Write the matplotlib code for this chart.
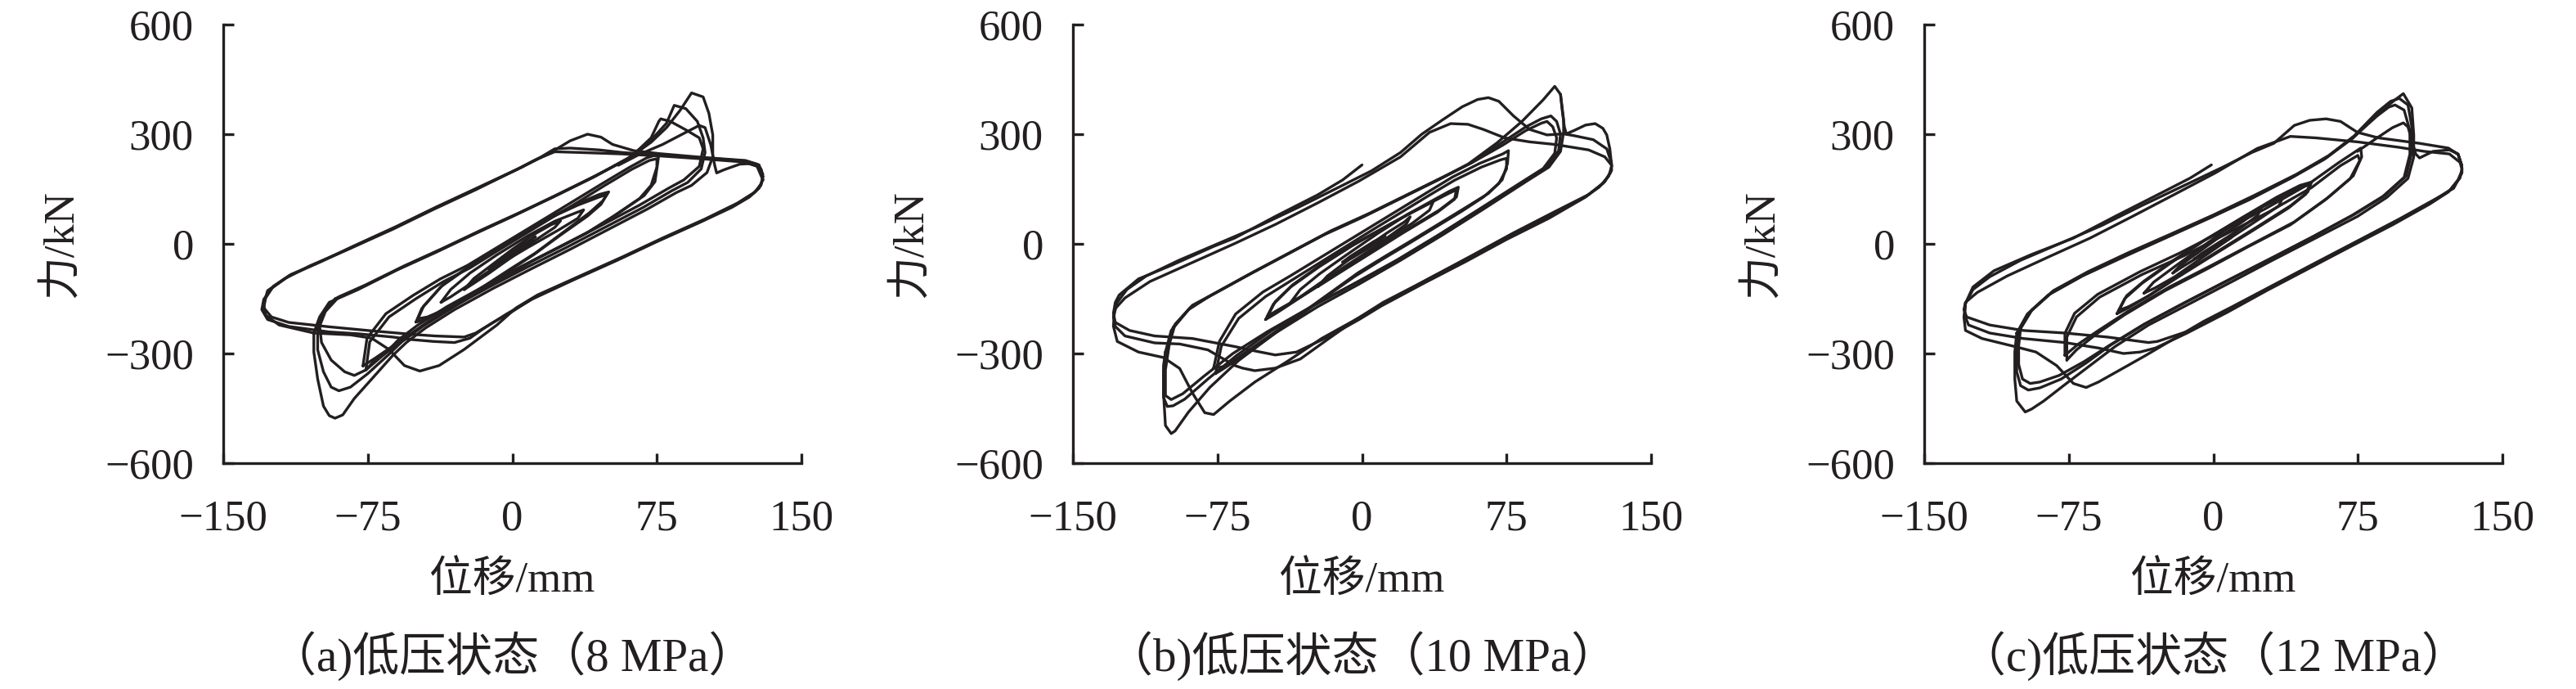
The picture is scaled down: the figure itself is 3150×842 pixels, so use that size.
"""Hysteresis loops (force vs displacement) for three low-pressure states."""

import matplotlib

matplotlib.use("Agg")
import matplotlib.pyplot as plt

plt.rcParams["font.family"] = ["Liberation Serif", "Noto Sans CJK SC"]
plt.rcParams["axes.unicode_minus"] = True

LINE_COLOR = "#231f20"

X_TICKS = [-150, -75, 0, 75, 150]
Y_TICKS = [-600, -300, 0, 300, 600]
X_LABEL = "位移/mm"
Y_LABEL = "力/kN"
CAPTIONS = ["（a)低压状态（8 MPa）", "（b)低压状态（10 MPa）", "（c)低压状态（12 MPa）"]

# ---- panel (a) 8 MPa: loops as (displacement, force) ----
a_small = [
    [(-12, -70), (-8, -52), (0, -22), (6, 0), (12, 20), (9, 5), (2, -22), (-5, -48), (-12, -70)],
    [(-25, -125), (-20, -95), (-10, -55), (0, -15), (10, 22), (20, 52), (25, 63), (22, 45),
     (12, 10), (0, -35), (-12, -80), (-20, -108), (-25, -125)],
    [(-37, -160), (-32, -125), (-22, -80), (-8, -30), (8, 22), (22, 62), (33, 85), (37, 93),
     (34, 70), (24, 38), (8, -10), (-8, -60), (-22, -110), (-32, -145), (-37, -160)],
    [(-50, -214), (-47, -177), (-37, -117), (-23, -65), (-9, -20), (5, 26), (19, 70), (33, 108),
     (45, 135), (50, 142), (47, 118), (40, 85), (26, 30), (12, -25), (-2, -72), (-16, -120),
     (-30, -165), (-44, -205), (-50, -214)],
    [(-49, -205), (-46, -170), (-36, -112), (-22, -60), (-8, -15), (6, 30), (20, 72), (34, 106),
     (45, 128), (49, 135), (46, 108), (39, 76), (25, 24), (11, -30), (-3, -78), (-17, -126),
     (-31, -170), (-44, -200), (-49, -205)],
]
a_75 = [
    [(-77.5, -334), (-75.4, -258), (-65.6, -191), (-51.5, -141), (-37.4, -96), (-23.3, -59),
     (-9.2, -14), (4.9, 31), (19, 76), (33, 121), (47, 166), (61, 210), (70, 236), (76, 245),
     (75.4, 220), (74, 170), (68.4, 132), (54, 80), (40, 34), (26, -4), (12, -42), (-2, -85),
     (-16, -124), (-30, -169), (-44, -214), (-58.5, -267), (-71, -312), (-77.5, -334)],
    [(-76, -345), (-74, -268), (-64, -200), (-50, -150), (-36, -104), (-22, -66), (-8, -20),
     (6, 25), (20, 70), (34, 114), (48, 160), (62, 204), (71, 228), (75, 233), (75, 210),
     (72, 160), (66, 124), (52, 74), (38, 28), (24, -10), (10, -48), (-4, -92), (-18, -132),
     (-32, -178), (-46, -224), (-60, -278), (-72, -322), (-76, -345)],
]
a_100 = [
    [(-103, -244), (-100, -200), (-95, -160), (-80, -125), (-60, -72), (-40, -24), (-20, 26),
     (0, 75), (20, 126), (40, 178), (60, 232), (72, 278), (80, 318), (87, 365), (93, 413),
     (99, 402), (102, 357), (104, 298), (104, 238), (101, 195), (93, 160), (85, 140), (70, 95),
     (50, 40), (30, -15), (10, -68), (-10, -122), (-30, -180), (-45, -230), (-55, -270),
     (-62, -305), (-73, -370), (-82, -423), (-88, -468), (-92, -477), (-95, -470), (-98, -444),
     (-101, -370), (-103, -296), (-103, -244)],
    [(-101, -230), (-98, -190), (-92, -150), (-78, -118), (-58, -66), (-38, -18), (-18, 32),
     (2, 80), (22, 130), (42, 182), (60, 234), (72, 284), (80, 330), (84, 379), (90, 370),
     (96, 335), (99, 290), (100, 250), (98, 205), (91, 168), (83, 146), (68, 100), (48, 45),
     (28, -10), (8, -63), (-12, -118), (-32, -176), (-47, -226), (-57, -266), (-64, -302),
     (-75, -355), (-84, -392), (-90, -402), (-94, -392), (-98, -350), (-101, -290),
     (-101, -230)],
    [(-100, -225), (-97, -185), (-90, -145), (-76, -112), (-56, -60), (-36, -12), (-16, 38),
     (4, 86), (24, 136), (44, 188), (62, 240), (72, 290), (76, 335), (77, 342), (82, 335),
     (90, 312), (97, 290), (99, 260), (97, 212), (89, 175), (81, 152), (66, 106), (46, 50),
     (26, -5), (6, -58), (-14, -114), (-34, -172), (-49, -222), (-59, -262), (-66, -300),
     (-76, -345), (-82, -360), (-87, -350), (-94, -318), (-99, -270), (-100, -225)],
]
a_130 = [
    [(55, 215), (66, 245), (78, 272), (90, 305), (97, 324), (100, 318), (103, 270), (105, 215),
     (106, 194), (110, 203), (118, 218), (125, 220), (129, 205), (130, 180), (129, 164),
     (126, 142), (117, 112), (100, 68), (78, 16), (57, -36), (35, -88), (13, -140), (2, -175),
     (-8, -222), (-25, -289), (-38, -333), (-48, -348), (-56, -333), (-64, -289), (-73, -258),
     (-84, -249), (-103, -244), (-121, -222), (-128, -195), (-129, -165), (-127, -128),
     (-118, -95), (-105, -60), (-84, -12), (-62, 42), (-41, 96), (-19, 150), (3, 205),
     (20, 250), (30, 282), (39, 300), (46, 292), (52, 272), (63, 255), (76, 247), (100, 236),
     (121, 228), (128, 216), (130, 190)],
    [(130, 185), (129, 160), (125, 138), (116, 108), (99, 64), (77, 12), (56, -40), (34, -92),
     (12, -145), (0, -185), (-10, -215), (-19, -244), (-25, -255), (-40, -252), (-51, -248),
     (-73, -238), (-95, -227), (-116, -215), (-125, -200), (-129, -175), (-128, -148),
     (-124, -116), (-115, -84), (-100, -50), (-82, -5), (-60, 48), (-39, 102), (-17, 156),
     (5, 210), (15, 238), (22, 260), (30, 262), (45, 257), (57, 250), (78, 242), (100, 235),
     (121, 227), (127, 218), (130, 185)],
    [(130, 175), (128, 152), (123, 128), (114, 100), (97, 58), (75, 6), (54, -46), (32, -98),
     (10, -152), (-3, -192), (-15, -232), (-22, -258), (-30, -270), (-41, -267), (-52, -262),
     (-62, -255), (-80, -246), (-95, -241), (-116, -226), (-127, -207), (-130, -180),
     (-129, -152), (-125, -122), (-116, -88), (-102, -55), (-84, -12), (-62, 40), (-41, 94),
     (-19, 148), (1, 200), (12, 230), (22, 252), (35, 250), (57, 246), (78, 240), (100, 232),
     (120, 224), (127, 212), (130, 175)],
]

# ---- panel (b) 10 MPa ----
b_small = [
    [(-10, -50), (-6, -34), (0, -14), (6, 6), (12, 22), (9, 8), (2, -16), (-5, -38), (-10, -50)],
    [(-23, -117), (-18, -88), (-9, -52), (2, -10), (13, 30), (22, 60), (25, 74), (23, 54),
     (14, 20), (2, -25), (-10, -72), (-18, -100), (-23, -117)],
    [(-37, -160), (-32, -125), (-22, -82), (-8, -30), (8, 28), (24, 82), (34, 108), (37, 116),
     (35, 92), (26, 56), (10, 2), (-6, -52), (-22, -108), (-32, -145), (-37, -160)],
    [(-50, -207), (-46, -165), (-37, -118), (-22, -62), (-5, -5), (15, 55), (33, 108), (45, 143),
     (50, 155), (49, 128), (40, 92), (22, 35), (3, -28), (-17, -95), (-33, -150), (-44, -188),
     (-50, -207)],
    [(-49, -198), (-45, -158), (-36, -112), (-21, -56), (-4, 0), (16, 58), (34, 108), (45, 138),
     (49, 148), (48, 122), (39, 86), (21, 29), (2, -34), (-18, -100), (-34, -152), (-44, -182),
     (-49, -198)],
]
b_75 = [
    [(-77, -340), (-74, -267), (-65.6, -192), (-51.5, -132), (-37, -87), (-23, -42), (-9, 3),
     (5, 48), (19, 93), (33, 138), (47, 183), (61, 220), (73, 246), (76, 255), (75.5, 220),
     (72.7, 175), (65.6, 138), (54, 100), (40, 55), (26, 10), (12, -34), (-2, -79),
     (-16, -132), (-30, -185), (-44, -237), (-58.5, -290), (-71, -335), (-77, -340)],
    [(-76, -355), (-73, -280), (-64, -204), (-50, -144), (-36, -98), (-22, -52), (-8, -6),
     (6, 40), (20, 85), (34, 130), (48, 174), (62, 210), (72, 230), (75, 234), (75, 205),
     (71, 165), (63, 128), (52, 90), (38, 45), (24, 0), (10, -44), (-4, -90), (-18, -142),
     (-32, -195), (-46, -248), (-60, -300), (-72, -342), (-76, -355)],
]
b_100 = [
    [(-102, -296), (-99, -237), (-90, -180), (-80, -146), (-60, -88), (-40, -32), (-20, 24),
     (0, 72), (20, 124), (40, 176), (55, 218), (70, 276), (83, 335), (94, 394), (100, 431),
     (103, 409), (104.6, 340), (104.6, 305), (103, 253), (97, 210), (85, 170), (63, 95),
     (42, 25), (20, -45), (-1.5, -110), (-23, -172), (-45, -244), (-64, -319), (-79, -393),
     (-90, -460), (-97, -512), (-99, -519), (-102, -497), (-103, -408), (-103, -333),
     (-102, -296)],
    [(-101, -285), (-98, -228), (-89, -174), (-78, -140), (-58, -82), (-38, -26), (-18, 30),
     (2, 78), (22, 130), (42, 182), (57, 222), (72, 275), (85, 320), (93, 342), (98, 350),
     (101, 335), (103, 300), (102, 255), (96, 212), (84, 172), (62, 98), (41, 28), (19, -42),
     (-3, -106), (-25, -168), (-47, -238), (-65, -305), (-80, -370), (-92, -425), (-98, -443),
     (-101, -445), (-103, -420), (-103, -350), (-101, -285)],
    [(-100, -275), (-97, -220), (-88, -168), (-76, -134), (-56, -76), (-36, -20), (-16, 36),
     (4, 84), (24, 136), (44, 188), (59, 228), (73, 270), (85, 310), (93, 330), (96, 335),
     (99, 320), (101, 290), (100, 248), (94, 206), (82, 166), (60, 92), (39, 22), (17, -48),
     (-5, -112), (-27, -174), (-49, -240), (-67, -300), (-82, -362), (-93, -410), (-99, -426),
     (-102, -415), (-102, -345), (-100, -275)],
]
b_130 = [
    [(103, 409), (104, 360), (105, 320), (106, 301), (110, 310), (116, 325), (121, 329),
     (125, 316), (127, 298), (128.6, 260), (129.5, 215), (129.5, 201), (126, 170),
     (117.6, 135), (100, 88), (78.6, 30), (57, -32), (35, -94), (13.6, -156), (-1.5, -202),
     (-21, -259), (-38, -319), (-55.6, -378), (-68.6, -430), (-77, -467), (-81.6, -462),
     (-88, -408), (-94.6, -341), (-103, -311), (-116, -296), (-127, -267), (-129, -225),
     (-128.5, -190), (-127, -160), (-122, -125), (-112, -88), (-95, -45), (-75, 0), (-55, 45),
     (-33, 100), (-12, 155), (5, 200), (20, 250), (31, 300), (42, 340), (52, 375), (60, 395),
     (65.6, 400), (71, 390), (78.6, 350), (87, 313), (96, 298), (104.6, 301), (110, 296),
     (120, 285), (127, 260), (129.5, 220)],
    [(129.5, 215), (129, 195), (125, 165), (116, 128), (98, 78), (76, 20), (55, -40),
     (33, -100), (11, -160), (-4, -210), (-18, -262), (-32, -315), (-45, -340), (-55.6, -347),
     (-62, -340), (-66, -333), (-80, -290), (-94.6, -274), (-107.6, -271), (-123, -252),
     (-128, -226), (-129, -200), (-128, -177), (-123, -148), (-110, -103), (-88, -51), (-66, 1),
     (-45, 53), (-23, 112), (-1.5, 172), (20, 238), (35, 305), (46, 329), (55, 327), (63, 313),
     (74, 290), (87, 279), (100, 272), (117.6, 257), (126, 238), (129.5, 215)],
    [(129.5, 212), (128, 185), (123, 155), (114, 122), (97, 70), (75, 12), (54, -48),
     (32, -108), (10, -170), (-1.5, -207), (-16.7, -252), (-34, -296), (-45, -304),
     (-55.6, -293), (-66, -281), (-88, -259), (-107.6, -252), (-120.6, -237), (-128, -215),
     (-129, -190), (-128, -160), (-126, -140), (-116, -96), (-99, -59), (-77, -7), (-66, 16),
     (-45, 75), (-23, 134), (-10, 175), (0, 216)],
]

# ---- panel (c) 12 MPa ----
c_small = [
    [(-10, -42), (-6, -26), (0, -6), (6, 14), (12, 32), (9, 16), (2, -8), (-5, -30), (-10, -42)],
    [(-21, -80), (-17, -58), (-8, -24), (3, 18), (15, 60), (23, 90), (25, 100), (23, 78),
     (15, 46), (3, 2), (-9, -40), (-17, -66), (-21, -80)],
    [(-36, -135), (-31, -105), (-20, -62), (-5, -5), (10, 52), (25, 100), (33, 120), (36, 126),
     (34, 104), (25, 72), (10, 20), (-5, -35), (-20, -90), (-30, -120), (-36, -135)],
    [(-50, -191), (-46, -150), (-37, -108), (-22, -52), (-5, 8), (15, 72), (33, 128), (45, 160),
     (51, 169), (49, 142), (40, 104), (22, 44), (3, -18), (-17, -84), (-33, -140), (-44, -175),
     (-50, -191)],
    [(-49, -182), (-45, -142), (-36, -102), (-21, -46), (-4, 12), (16, 74), (34, 126), (45, 154),
     (50, 162), (48, 136), (39, 98), (21, 38), (2, -24), (-18, -90), (-34, -144), (-44, -172),
     (-49, -182)],
]
c_75 = [
    [(-77, -305), (-77, -245), (-72, -190), (-60, -138), (-38, -76), (-17, -24), (5, 36),
     (27, 96), (49, 162), (65, 222), (76.5, 262), (77, 238), (72.6, 186), (59.6, 127), (42, 60),
     (20.6, 0.7), (-1, -59), (-22.8, -118), (-44.4, -185), (-59.6, -237), (-70, -274),
     (-77, -305)],
    [(-76, -318), (-76, -255), (-71, -200), (-59, -146), (-37, -84), (-15, -32), (7, 28),
     (29, 88), (51, 154), (66, 214), (75, 242), (76, 228), (71, 178), (58, 120), (40, 52),
     (18, -8), (-3, -68), (-25, -128), (-46, -194), (-61, -248), (-71, -290), (-76, -318)],
]
c_100 = [
    [(-102, -244), (-96.5, -192), (-85.6, -140), (-68, -88), (-46.6, -36), (-25, 15.6),
     (-3.3, 67.6), (18.4, 120), (40, 179), (57.5, 231), (72.6, 290), (85.6, 357), (94.3, 394),
     (98.6, 411), (103, 372), (104, 298), (104, 238), (101, 179), (90, 127), (74.8, 75),
     (53, 15.6), (31, -44), (9.8, -103), (-12, -163), (-33.6, -222), (-51, -281), (-64, -333),
     (-77, -385), (-88, -430), (-94.3, -452), (-97.6, -460), (-102, -430), (-103, -370),
     (-103, -296), (-102, -244)],
    [(-101, -238), (-95, -186), (-84, -134), (-66, -82), (-45, -30), (-23, 21), (-1, 73),
     (20, 126), (42, 185), (59, 237), (73, 295), (85, 360), (92, 390), (96.5, 398), (101, 380),
     (103, 320), (103, 250), (100, 185), (89, 132), (73, 80), (52, 20), (30, -40), (8, -99),
     (-14, -159), (-35, -218), (-53, -276), (-66, -326), (-79, -370), (-90, -394), (-96, -400),
     (-100, -388), (-102, -350), (-102, -290), (-101, -238)],
    [(-100, -232), (-94, -180), (-83, -128), (-65, -76), (-44, -24), (-22, 27), (0, 79),
     (21, 132), (43, 190), (60, 242), (74, 298), (85, 350), (91, 374), (94.3, 380), (99, 366),
     (102, 310), (102, 245), (99, 182), (88, 130), (72, 78), (51, 18), (29, -42), (7, -101),
     (-15, -161), (-36, -220), (-54, -278), (-67, -322), (-80, -360), (-90, -378), (-95, -382),
     (-99, -370), (-101, -330), (-101, -280), (-100, -232)],
]
c_130 = [
    [(74.8, 253), (85, 290), (93, 318), (98.6, 331), (101, 320), (103, 283), (105, 246),
     (107, 235), (114, 253), (122.5, 257), (127, 246), (129, 209), (129, 194), (124.7, 152),
     (116, 125), (96.5, 68), (74.8, 8), (53, -52), (31.4, -112), (9.8, -172), (-5, -212),
     (-22.8, -267), (-35, -305), (-44.4, -333), (-59.6, -378), (-66, -393), (-72.6, -382),
     (-81.3, -333), (-92, -296), (-103, -281), (-120, -259), (-128.6, -237), (-129.4, -200),
     (-128.6, -163), (-124.7, -125), (-116, -90), (-100, -45), (-80, 0), (-58, 50), (-37, 105),
     (-15, 160), (5, 210), (20, 250), (31.4, 275), (42, 324), (50, 338), (58.5, 342),
     (66, 335), (74.8, 305), (85.6, 290), (107, 275), (122, 262), (127, 245), (129, 215)],
    [(129, 205), (128, 180), (123, 148), (114, 116), (95, 60), (73, 0), (52, -60), (30, -120),
     (8.5, -180), (-12, -237), (-29, -267), (-33.6, -270), (-55, -255), (-77, -244),
     (-98.6, -237), (-116, -222), (-128, -200), (-129.4, -180), (-128.6, -160),
     (-122.5, -133), (-107, -88), (-85.6, -36), (-64, 15.6), (-42, 75), (-20.6, 134), (1, 194),
     (22.8, 261), (40, 294), (53, 290), (74.8, 279), (96.5, 264), (109.5, 253), (122.5, 246),
     (128, 223), (129, 205)],
    [(129, 200), (127, 175), (122, 142), (112, 108), (93, 52), (71, -8), (50, -66), (28, -127),
     (7, -188), (-14, -245), (-30, -285), (-38, -296), (-46.6, -300), (-59.6, -285),
     (-77, -270), (-98.6, -259), (-116, -244), (-127, -222), (-129, -195), (-128.6, -163),
     (-124.7, -118), (-113.8, -73.5), (-94.3, -29), (-72.6, 15.6), (-51, 75), (-29, 134),
     (-12, 180), (-1, 216)],
]

PANELS = [
    a_small + a_75 + a_100 + a_130,
    b_small + b_75 + b_100 + b_130,
    c_small + c_75 + c_100 + c_130,
]

# layout in pixels of the 3150 x 842 canvas
FIG_W, FIG_H = 3150, 842
AX_LEFT_PX = [273, 1312, 2353]
AX_TOP_PX, AX_W_PX, AX_H_PX = 30, 707, 536


def _draw_panel(fig, left_px, loops, caption):
    ax = fig.add_axes([
        left_px / FIG_W,
        1 - (AX_TOP_PX + AX_H_PX) / FIG_H,
        AX_W_PX / FIG_W,
        AX_H_PX / FIG_H,
    ])
    for loop in loops:
        xs = [p[0] for p in loop]
        ys = [p[1] for p in loop]
        ax.plot(xs, ys, color=LINE_COLOR, lw=2.4, solid_joinstyle="round",
                solid_capstyle="round")

    ax.set_xlim(-150, 150)
    ax.set_ylim(-600, 600)
    ax.set_xticks(X_TICKS)
    ax.set_yticks(Y_TICKS)
    for side in ("top", "right"):
        ax.spines[side].set_visible(False)
    for side in ("left", "bottom"):
        ax.spines[side].set_linewidth(2.4)
        ax.spines[side].set_color(LINE_COLOR)
    ax.tick_params(direction="in", length=9, width=2.4, color=LINE_COLOR,
                   labelsize=38, labelcolor=LINE_COLOR)
    ax.tick_params(axis="x", pad=32)
    ax.tick_params(axis="y", pad=26)

    center_x = (left_px + AX_W_PX / 2) / FIG_W
    fig.text((left_px - 199) / FIG_W, 1 - (AX_TOP_PX + AX_H_PX / 2) / FIG_H, Y_LABEL,
             rotation=90, ha="center", va="center", fontsize=38, color=LINE_COLOR)
    fig.text(center_x, 1 - 709 / FIG_H, X_LABEL, ha="center", va="center",
             fontsize=38, color=LINE_COLOR)
    fig.text(center_x, 1 - 802 / FIG_H, caption, ha="center", va="center",
             fontsize=41, color=LINE_COLOR)


def main() -> None:
    fig = plt.figure(figsize=(FIG_W / 100, FIG_H / 100), dpi=100)
    for left_px, loops, caption in zip(AX_LEFT_PX, PANELS, CAPTIONS):
        _draw_panel(fig, left_px, loops, caption)
    fig.savefig("out.png", dpi=100, facecolor="white")
    plt.close(fig)


if __name__ == "__main__":
    main()
